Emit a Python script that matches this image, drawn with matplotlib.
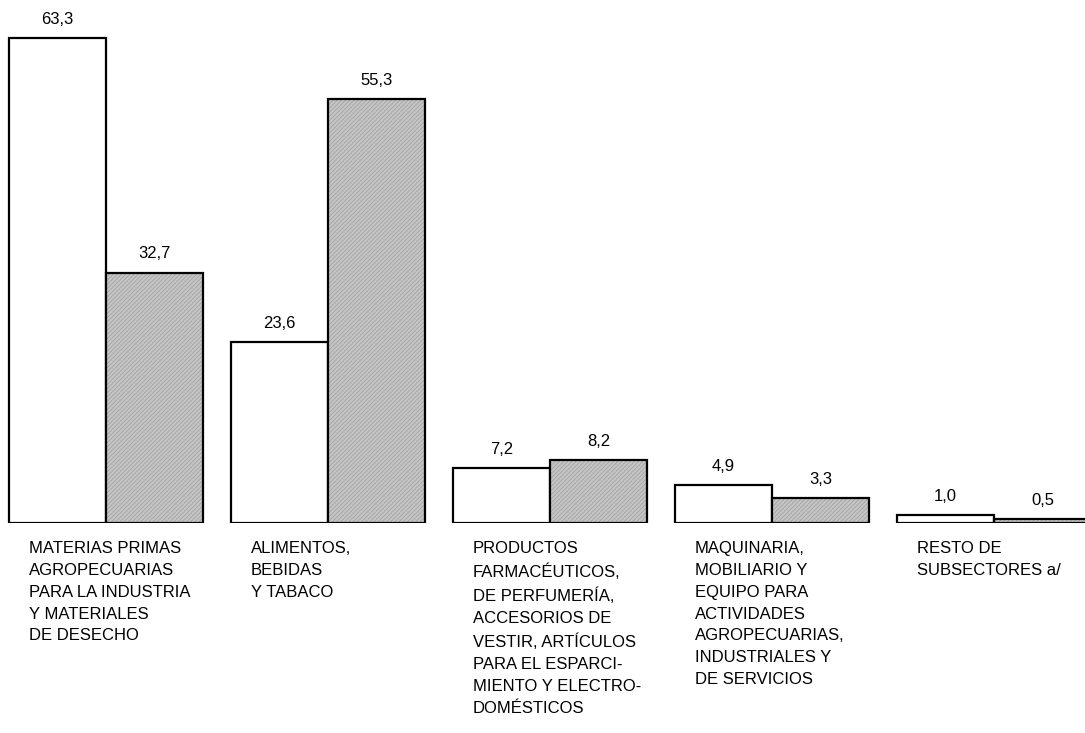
import matplotlib.pyplot as plt

plt.rcParams['font.family'] = ['Liberation Sans', 'DejaVu Sans']
plt.rcParams['hatch.linewidth'] = 0.6

labels = [
    'MATERIAS PRIMAS\nAGROPECUARIAS\nPARA LA INDUSTRIA\nY MATERIALES\nDE DESECHO',
    'ALIMENTOS,\nBEBIDAS\nY TABACO',
    'PRODUCTOS\nFARMACÉUTICOS,\nDE PERFUMERÍA,\nACCESORIOS DE\nVESTIR, ARTÍCULOS\nPARA EL ESPARCI-\nMIENTO Y ELECTRO-\nDOMÉSTICOS',
    'MAQUINARIA,\nMOBILIARIO Y\nEQUIPO PARA\nACTIVIDADES\nAGROPECUARIAS,\nINDUSTRIALES Y\nDE SERVICIOS',
    'RESTO DE\nSUBSECTORES a/',
]
serie_a = [63.3, 23.6, 7.2, 4.9, 1.0]
serie_b = [32.7, 55.3, 8.2, 3.3, 0.5]

w = 0.437
x = list(range(len(labels)))

fig = plt.figure(figsize=(10.85, 7.33), dpi=100)
ax = fig.add_axes([0, 1 - 523 / 733, 1, 523 / 733])

xa = [i - w / 2 for i in x]
xb = [i + w / 2 for i in x]
ax.bar(xa, serie_a, w, facecolor='white', edgecolor='black', linewidth=1.6)
ax.bar(xb, serie_b, w, facecolor='#c6c6c6', edgecolor='#a2a2a2', hatch='////////', linewidth=0)
ax.bar(xb, serie_b, w, facecolor='none', edgecolor='black', linewidth=1.6)

fmt = lambda v: f'{v:.1f}'.replace('.', ',')
for xs, vals in ((xa, serie_a), (xb, serie_b)):
    for xi, v in zip(xs, vals):
        ax.annotate(fmt(v), (xi, v), xytext=(0, 8), textcoords='offset points',
                    ha='center', va='bottom', fontsize=12, annotation_clip=False)

for i, lab in enumerate(labels):
    ax.annotate(lab, (i - w + 0.09, 0), xytext=(0, -13), textcoords='offset points',
                ha='left', va='top', fontsize=12, linespacing=1.57,
                annotation_clip=False)

ax.set_xlim(-106 / 222, (1085 - 106) / 222)
ax.set_ylim(0, 523 / 7.66)
ax.axis('off')

fig.savefig('out.png', dpi=100)
